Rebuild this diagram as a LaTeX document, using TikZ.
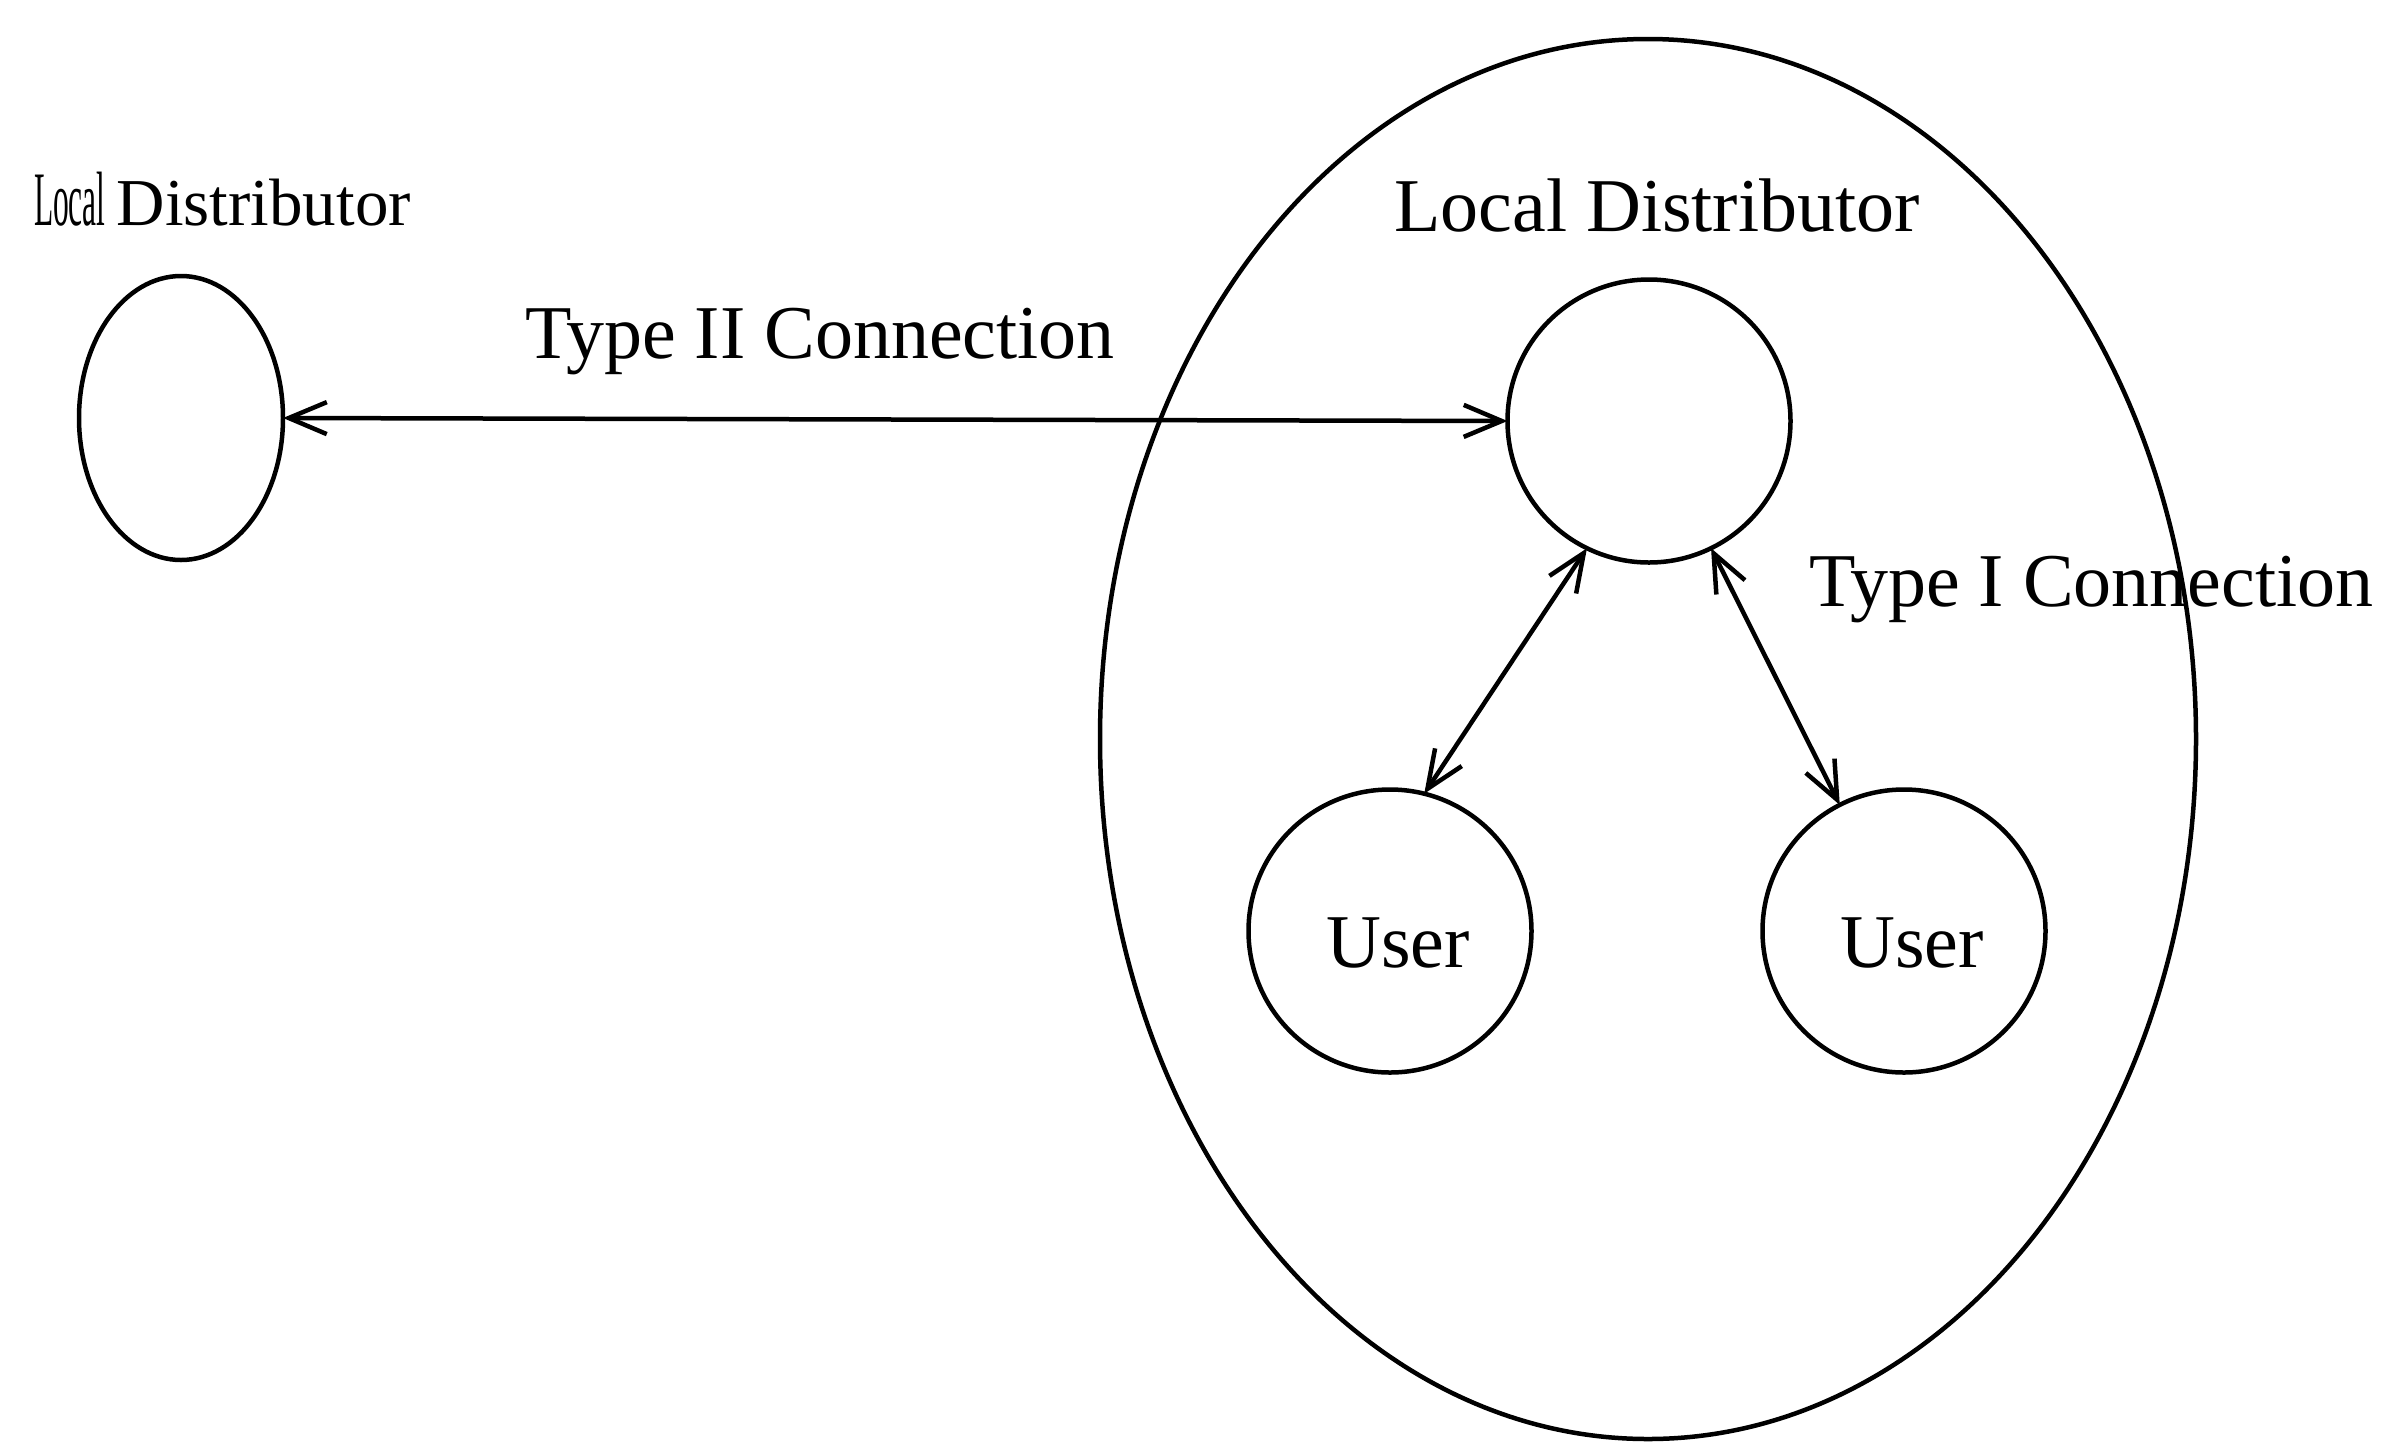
\documentclass[tikz,border=0pt]{standalone}
\usepackage{fontspec}
\usepackage{graphicx}
\setmainfont{Liberation Serif}
\usetikzlibrary{arrows.meta,shapes.geometric}
\begin{document}
\begin{tikzpicture}[x=1pt,y=-1pt,
  every node/.style={inner sep=0pt,outer sep=0pt},
  lbl/.style={font=\fontsize{76}{90}\selectfont},
  circ/.style={draw,circle,line width=4.5pt,minimum size=283pt},
  conn/.style={line width=4.5pt,{Straight Barb[length=38pt,width=32pt]}-{Straight Barb[length=38pt,width=32pt]}}]
\useasboundingbox[fill=white] (0,0) rectangle (2388,1444);
% big ellipse
\node[draw,ellipse,line width=4.5pt,minimum width=1096pt,minimum height=1400pt] (dom) at (1648,739) {};
% left distributor
\node[draw,ellipse,line width=4.5pt,minimum width=204pt,minimum height=284pt] (le) at (181,418) {};
\node[font=\fontsize{67}{80}\selectfont,anchor=base west] (llbl) at (34,225) {\scalebox{0.47}[1.15]{Local}\,Distributor};
% local distributor inside
\node[circ] (ld) at (1649,421) {};
\node[lbl,anchor=base] (ldlbl) at (1657,231) {Local Distributor};
% users
\node[circ] (ul) at (1390,931) {};
\node[circ] (ur) at (1904,931) {};
\node[lbl,anchor=base] (ull) at (1398,967) {User};
\node[lbl,anchor=base] (url) at (1912,967) {User};
% connections
\draw[conn] (le.east) -- (ld.west);
\draw[conn] (ld.244) -- (ul.76);
\draw[conn] (ld.296) -- (ur.117);
% labels
\node[lbl,anchor=base west] (t2) at (525,358) {Type II Connection};
\node[lbl,anchor=base west] (t1) at (1809,606) {Type I Connection};
\end{tikzpicture}
\end{document}
